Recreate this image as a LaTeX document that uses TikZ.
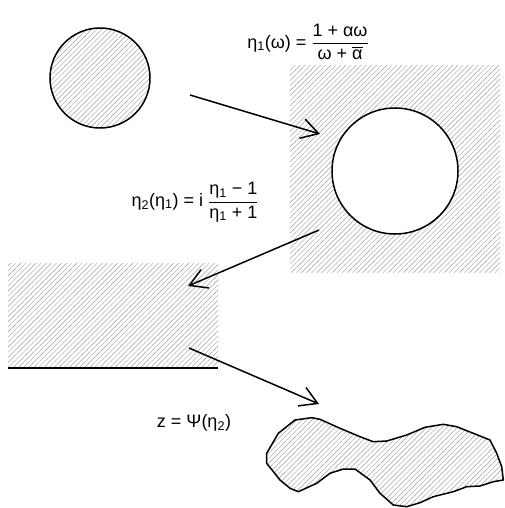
\documentclass[tikz,border=0pt]{standalone}
\usepackage{amsmath}
\usepackage{fontspec}
\setmainfont{Liberation Sans}
\usetikzlibrary{arrows.meta, patterns.meta}

\begin{document}
\begin{tikzpicture}[x=1pt, y=-1pt, >={Straight Barb[length=17pt, width=20pt]},
    hatch/.style={pattern={Lines[angle=45, distance=3.6pt, line width=0.45pt]}, pattern color=gray!75},
    edge/.style={line width=1.5pt},
    map/.style={->, line width=1.5pt},
    lab/.style={font=\fontsize{18}{21}\selectfont, inner sep=0pt}]
    \useasboundingbox (0,0) rectangle (504,508);

    % disc, its image, the half plane and the final domain
    \node[circle, draw, edge, hatch, minimum size=100pt, inner sep=0pt] (disc) at (100,78) {};
    \fill[hatch] (290,66) rectangle (500,272);
    \node[circle, draw, edge, fill=white, minimum size=126pt, inner sep=0pt] (hole) at (395,171) {};
    \fill[hatch] (8,263) rectangle (218,368);
    \coordinate (hpl) at (8,368);
    \coordinate (hpr) at (218,368);
    \draw[edge] (hpl) -- (hpr);
    \draw[edge, hatch, line join=round]
        (278.3,433.3) -- (295,420) -- (311.7,417.7) -- (320,419.3) -- (340,428.3)
        -- (360,436.7) -- (373.3,441.7) -- (386.7,441) -- (406.7,435) -- (425,427.3)
        -- (443.3,424.3) -- (456.7,426.7) -- (473.3,433.3) -- (490,440) -- (496.7,453.3)
        -- (501.7,466.7) -- (503.3,480) -- (493.3,481.7) -- (480,486) -- (466.7,486.7)
        -- (453.3,491.7) -- (433.3,496.7) -- (420,502.7) -- (406.7,506.7) -- (393.3,505)
        -- (380,493.3) -- (370,480) -- (355,469) -- (343.3,469) -- (330,473.3)
        -- (316.7,483.3) -- (298.3,491.7) -- (290,488.3) -- (280,480) -- (266.7,463.3)
        -- (266.7,453.3) -- cycle;

    % the three maps
    \coordinate (m1s) at (190,95);
    \coordinate (m1e) at (320,134);
    \coordinate (m2s) at (319,230);
    \coordinate (m2e) at (188,286);
    \coordinate (m3s) at (189,348);
    \coordinate (m3e) at (319,404);
    \draw[map] (m1s) -- (m1e);
    \draw[map] (m2s) -- (m2e);
    \draw[map] (m3s) -- (m3e);

    \node[lab] (eta1) at (308,42) {η\textsubscript{1}(ω) = $\dfrac{\text{1 + αω}}{\text{ω + }\overline{\text{α}}}$};
    \node[lab] (eta2) at (195,202) {η\textsubscript{2}(η\textsubscript{1}) = i $\dfrac{\text{η\textsubscript{1} − 1}}{\text{η\textsubscript{1} + 1}}$};
    \node[lab] (psi) at (194,423) {z = Ψ(η\textsubscript{2})};
\end{tikzpicture}
\end{document}
